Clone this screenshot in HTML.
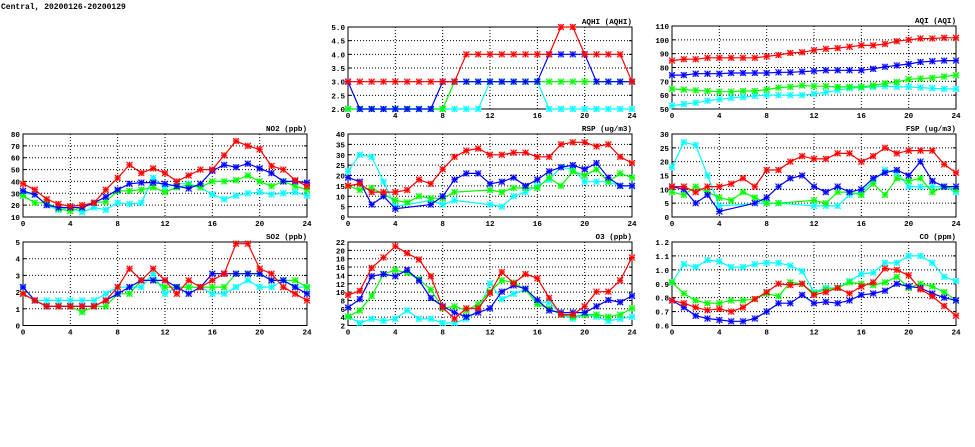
<!DOCTYPE html>
<html><head><meta charset="utf-8"><style>
html,body{margin:0;padding:0;background:#fff;width:975px;height:447px;overflow:hidden}
svg text{font-family:"Liberation Mono","DejaVu Sans Mono",monospace;font-weight:bold;font-size:7.6px;fill:#000}
</style></head><body>
<svg id="s" width="975" height="447" xmlns="http://www.w3.org/2000/svg">
<text x="1" y="9" style="font-size:8px">Central, 20200126-20200129</text>
</svg>
<script>
var N=null;
var panels=[
{x:348,y:27,b:109,t:"AQHI (AQHI)",min:2,max:5,step:0.5,dec:1,d:[
[2,2,2,2,2,2,2,2,2,2,2,2,3,3,3,3,3,2,2,2,2,2,2,2,2],
[2,2,2,2,2,2,2,2,2,3,3,3,3,3,3,3,3,3,3,3,3,3,3,3,3],
[3,2,2,2,2,2,2,2,3,3,3,3,3,3,3,3,3,4,4,4,4,3,3,3,3],
[3,3,3,3,3,3,3,3,3,3,4,4,4,4,4,4,4,4,5,5,4,4,4,4,3]]},
{x:672,y:26,b:109,t:"AQI (AQI)",min:50,max:110,step:10,dec:0,d:[
[52.5,53.5,54.5,56,57,58,58.5,59.5,60,60,60,60,61,62,63.5,65,65.5,66,66.5,66,66,65.5,65,64.5,64.5],
[64.5,64,63.5,63,62.5,62.5,63,63,64,65.5,66,67,66.5,66.5,66,66,66,67,68.5,69.5,71.5,72,72.5,73.5,74.5],
[74.5,74.5,75.5,75.5,75.5,76,76,76,76,76.5,76.5,77,77.5,78,78,78,78,79,80.5,81.5,82.5,84,84.5,85,85],
[85,86,86,87,87,87,87,87,88,89,90.5,91,92.5,93.5,94,95,96,96,97,99,100,101,101,101.5,101.5]]},
{x:23,y:134,b:217,t:"NO2 (ppb)",min:10,max:80,step:10,dec:0,d:[
[30,29,20,16,18,14,18,16,22,21,22,43,35,38,38,35,29,25,28,30,31,29,30,31,28],
[28,22,22,17,15,18,22,23,32,32,33,35,31,35,37,35,40,40,41,45,40,36,40,36,33],
[32,29,20,18,18,18,22,27,33,38,39,39,38,36,34,38,49,54,52,55,51,47,40,40,39],
[38,33,25,21,19,20,22,33,43,54,47,51,47,40,45,50,50,62,74,70,67,53,50,41,36]]},
{x:348,y:134,b:217,t:"RSP (ug/m3)",min:0,max:40,step:5,dec:0,d:[
[22,30,29,17,5,N,N,8,6,8,N,N,6,5,10,12,15,18,24,23,17,17,17,15,15],
[15,13,14,11,8,7,10,9,9,12,N,N,13,12,14,14,14,19,15,22,20,23,17,21,19],
[19,17,6,10,4,N,N,6,10,18,21,21,16,17,19,15,18,22,24,25,23,26,19,15,15],
[15,16,12,12,12,13,18,16,23,29,32,33,30,30,31,31,29,29,35,36,36,34,35,29,26]]},
{x:672,y:134,b:217,t:"FSP (ug/m3)",min:0,max:30,step:5,dec:0,d:[
[18,27,26,15,4,N,N,N,5,5,N,N,4,4,4,8,9,13,17,16,11,11,11,11,9],
[9,8,11,9,7,6,9,7,5,5,N,N,6,5,9,9,8,12,8,14,13,14,9,11,10],
[11,10,5,8,2,N,N,5,7,11,14,15,11,9,11,9,10,14,16,17,15,20,13,11,11],
[11,11,9,11,11,12,14,11,17,17,20,22,21,21,23,23,20,22,25,23,24,24,24,19,16]]},
{x:23,y:242,b:325.5,t:"SO2 (ppb)",min:0,max:5,step:1,dec:0,d:[
[2.3,1.5,1.5,1.5,1.5,1.5,1.5,1.9,2.3,2.3,2.3,3.1,1.9,2.3,2.3,2.3,1.9,1.9,2.3,2.7,2.3,2.3,2.7,2.3,2.3],
[1.9,1.5,1.15,1.15,1.15,0.8,1.15,1.15,1.9,1.9,2.7,2.7,2.3,2.3,2.3,2.3,2.3,2.3,3.1,3.1,3.1,2.7,2.7,2.7,2.3],
[2.3,1.5,1.15,1.15,1.15,1.15,1.15,1.5,1.9,2.3,2.7,2.7,2.7,2.3,1.9,2.3,3.1,3.1,3.1,3.1,3.1,2.7,2.7,2.3,1.9],
[1.9,1.5,1.15,1.15,1.15,1.15,1.15,1.5,2.3,3.4,2.7,3.4,2.7,1.9,2.7,2.3,2.7,3.1,4.9,4.9,3.4,3.1,2.3,1.9,1.5]]},
{x:348,y:242,b:325.5,t:"O3 (ppb)",min:2,max:22,step:2,dec:0,d:[
[4.1,2.6,3.6,3.1,3.6,5.6,3.6,3.6,2.6,2.6,3.6,5.6,12.1,8.3,9.6,10.6,7.6,7.6,4.6,3.6,4.6,4.1,3.1,3.6,4.1],
[4.1,5.6,9.1,14.3,15.3,14.6,13.1,10.6,6.1,6.6,5.6,7.1,10.1,12.8,12.3,10.6,7.1,6.1,4.6,4.1,4.6,4.6,4.1,4.6,6.1],
[6.3,8.3,13.8,14.3,13.8,15.3,12.8,8.6,6.6,5.1,4.1,5.1,6.1,10.1,11.6,10.8,8.1,5.6,5.1,5.1,5.1,6.6,8.1,7.6,9.1],
[9.3,10.3,15.8,18.3,21,19.3,17.8,13.8,6.3,3.6,6.1,6.1,9.8,14.8,12.1,14.3,13.3,8.6,4.6,4.6,6.6,10.1,10.1,12.8,18.3]]},
{x:672,y:242,b:325.5,t:"CO (ppm)",min:0.6,max:1.2,step:0.1,dec:1,d:[
[.91,1.04,1.02,1.07,1.06,1.02,1.02,1.04,1.05,1.05,1.03,.99,.84,.87,.87,.92,.97,.98,1.05,1.05,1.10,1.10,1.05,.95,.92],
[.91,.83,.78,.76,.76,.78,.78,.79,.83,.81,.91,.90,.83,.86,.87,.91,.90,.89,.91,.95,.87,.90,.88,.84,.78],
[.78,.73,.67,.65,.64,.63,.63,.65,.70,.76,.76,.82,.76,.77,.76,.78,.82,.83,.85,.90,.88,.87,.83,.80,.78],
[.78,.76,.73,.71,.72,.70,.73,.79,.84,.90,.89,.90,.82,.84,.87,.83,.88,.91,1.01,1.00,.96,.86,.81,.74,.67]]}
];
var cols=["#00ffff","#00ff00","#0000ff","#ff0000"];
var W=284,h="";
panels.forEach(function(p){
 var H=p.b-p.y;
 function X(i){return p.x+i*W/24}
 function Y(v){return p.b-(v-p.min)/(p.max-p.min)*H}
 var n=Math.round((p.max-p.min)/p.step);
 for(var k=0;k<=n;k++){var v=p.min+k*p.step,y=Y(v);
  if(k>0&&k<n)h+='<line x1="'+p.x+'" x2="'+(p.x+W)+'" y1="'+y+'" y2="'+y+'" stroke="#000" stroke-width="1" stroke-dasharray="1,2"/>';
  h+='<line x1="'+p.x+'" x2="'+(p.x+3)+'" y1="'+y+'" y2="'+y+'" stroke="#000"/><line x1="'+(p.x+W-3)+'" x2="'+(p.x+W)+'" y1="'+y+'" y2="'+y+'" stroke="#000"/>';
  h+='<text x="'+(p.x-3)+'" y="'+(y+3)+'" text-anchor="end">'+v.toFixed(p.dec)+'</text>';}
 for(var t=0;t<=24;t+=4){var x=X(t);
  if(t>0&&t<24)h+='<line x1="'+x+'" x2="'+x+'" y1="'+p.y+'" y2="'+p.b+'" stroke="#000" stroke-dasharray="1,2"/>';
  h+='<text x="'+x+'" y="'+(p.b+9)+'" text-anchor="middle">'+t+'</text>';}
 h+='<rect x="'+p.x+'" y="'+p.y+'" width="'+W+'" height="'+H+'" fill="none" stroke="#000" stroke-width="1"/>';
 h+='<text x="'+(p.x+W)+'" y="'+(p.y-3)+'" text-anchor="end">'+p.t+'</text>';
 p.d.forEach(function(s,si){var c=cols[si],pts=[];
  s.forEach(function(v,i){if(v!==null)pts.push([X(i),Y(v)])});
  h+='<polyline fill="none" stroke="'+c+'" stroke-width="1.2" points="'+pts.map(function(q){return q[0].toFixed(1)+','+q[1].toFixed(1)}).join(' ')+'"/>';
  pts.forEach(function(q){var a=q[0],b=q[1];
   h+='<rect x="'+(a-3)+'" y="'+(b-3)+'" width="6" height="6" fill="'+c+'" fill-opacity="0.3"/>';
   h+='<path d="M'+(a-3)+' '+(b-3)+'L'+(a+3)+' '+(b+3)+'M'+(a-3)+' '+(b+3)+'L'+(a+3)+' '+(b-3)+'M'+(a-3)+' '+b+'L'+(a+3)+' '+b+'M'+a+' '+(b-3)+'L'+a+' '+(b+3)+'" stroke="'+c+'" stroke-width="1"/>';});
 });
});
document.getElementById("s").insertAdjacentHTML("beforeend",h);
</script>
</body></html>
